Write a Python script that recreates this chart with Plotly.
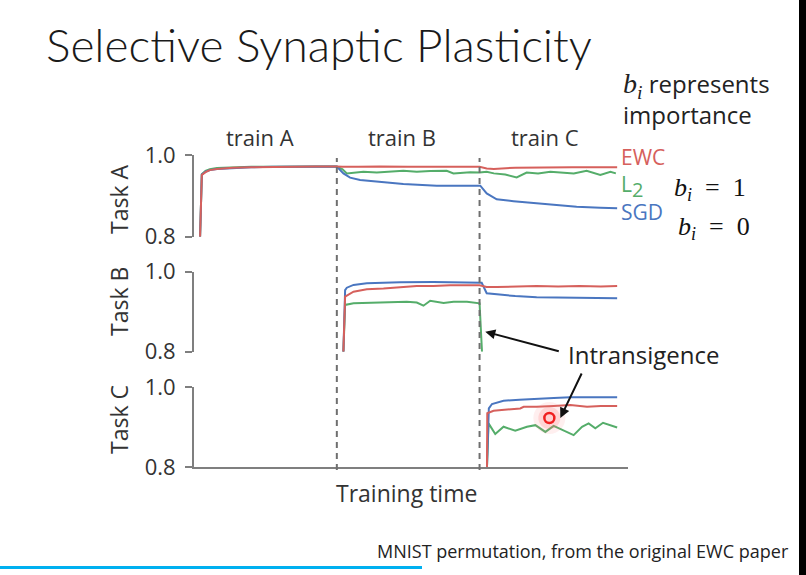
import plotly.graph_objects as go

W, H = 806, 575

# ---------------- data (training time units; each task phase = 100 units) ----------------
task_names = ["Task A", "Task B", "Task C"]
phase_labels = ["train A", "train B", "train C"]
phase_label_x = [46, 146, 246]
phase_bounds = [100, 200]
methods = ["EWC", "L2", "SGD"]
y_ticks = [0.8, 1.0]
y_tick_text = ["0.8", "1.0"]

# Task A
taskA_ewc_x = [4.2, 5.4, 8, 11, 16, 27, 40, 55, 70, 85, 100, 104, 115, 130, 150, 170, 190, 200, 205, 210, 225, 245, 265, 285, 296.4]
taskA_ewc_y = [0.80, 0.951, 0.958, 0.963, 0.966, 0.969, 0.970, 0.971, 0.971, 0.972, 0.972, 0.971, 0.971, 0.972, 0.971, 0.971, 0.972, 0.971, 0.967, 0.966, 0.969, 0.970, 0.970, 0.970, 0.970]
taskA_l2_x = [4.2, 5.4, 8, 11, 16, 27, 40, 55, 70, 85, 100, 104, 107, 118.6, 128, 135, 146.6, 156, 165.4, 177, 181.7, 193.5, 200, 205, 210, 218, 226, 233, 241, 249.6, 258, 266, 275, 284.6, 291.7, 295.5]
taskA_l2_y = [0.80, 0.953, 0.961, 0.965, 0.968, 0.970, 0.971, 0.971, 0.972, 0.972, 0.972, 0.965, 0.955, 0.959, 0.957, 0.959, 0.9615, 0.959, 0.961, 0.9615, 0.955, 0.958, 0.957, 0.959, 0.955, 0.952, 0.945, 0.957, 0.955, 0.959, 0.957, 0.955, 0.9615, 0.951, 0.959, 0.955]
taskA_sgd_x = [4.2, 5.4, 8, 11, 16, 27, 40, 55, 70, 85, 100, 104.6, 109.3, 116.3, 128, 146.6, 170, 199.3, 200.5, 205, 212, 223.8, 238, 252, 268, 284.6, 296.4]
taskA_sgd_y = [0.80, 0.952, 0.959, 0.963, 0.966, 0.968, 0.970, 0.971, 0.971, 0.972, 0.972, 0.955, 0.9445, 0.939, 0.935, 0.929, 0.925, 0.924, 0.925, 0.906, 0.8915, 0.887, 0.883, 0.8775, 0.8735, 0.871, 0.8695]

# Task B
taskB_ewc_x = [104.6, 105.8, 111.7, 121, 132.7, 144.4, 156, 167.6, 179.5, 200, 205, 212, 225, 240, 255, 270, 285, 296.4]
taskB_ewc_y = [0.80, 0.9375, 0.950, 0.956, 0.958, 0.961, 0.964, 0.964, 0.966, 0.966, 0.962, 0.962, 0.963, 0.964, 0.963, 0.964, 0.963, 0.964]
taskB_l2_x = [104.6, 105.8, 111.7, 121, 132.7, 149, 156, 160.7, 165.4, 174.8, 181.8, 191.2, 200, 201.7]
taskB_l2_y = [0.80, 0.917, 0.921, 0.922, 0.9235, 0.925, 0.923, 0.915, 0.9275, 0.922, 0.925, 0.925, 0.921, 0.80]
taskB_sgd_x = [104.6, 105.8, 107, 111.7, 121, 144.4, 167.6, 200, 201.5, 205, 212, 225, 240, 260, 280, 296.4]
taskB_sgd_y = [0.80, 0.954, 0.960, 0.967, 0.971, 0.9735, 0.974, 0.974, 0.9725, 0.946, 0.943, 0.939, 0.936, 0.935, 0.934, 0.9335]

# Task C
taskC_ewc_x = [205.2, 205.4, 209.8, 215, 221.5, 228.5, 230.9, 240, 251.9, 263.6, 275.3, 285, 296.4]
taskC_ewc_y = [0.80, 0.935, 0.941, 0.943, 0.945, 0.947, 0.951, 0.951, 0.953, 0.9555, 0.951, 0.953, 0.953]
taskC_l2_x = [205.2, 206.3, 211.0, 216.8, 225.0, 233.2, 239.1, 246.1, 251.9, 257.8, 265.9, 271.8, 276.4, 281.1, 286.5, 296.4]
taskC_l2_y = [0.80, 0.9095, 0.883, 0.901, 0.891, 0.901, 0.905, 0.888, 0.903, 0.894, 0.880, 0.901, 0.9095, 0.897, 0.911, 0.899]
taskC_sgd_x = [205.2, 206.5, 208.7, 212, 216.8, 228, 240.2, 252, 263.6, 280, 296.4]
taskC_sgd_y = [0.80, 0.947, 0.958, 0.962, 0.966, 0.969, 0.972, 0.973, 0.975, 0.975, 0.975]

# ---------------- styling ----------------
RED, GREEN, BLUE = "#d6605c", "#55ad6a", "#4a76c0"
AXC = "#7f7f7f"
TXT = "#333333"
FONT = "Open Sans"


def px(x):
    return x / W


def py(y):
    return 1 - y / H


fig = go.Figure()

series = [
    ("y", taskA_l2_x, taskA_l2_y, GREEN), ("y", taskA_sgd_x, taskA_sgd_y, BLUE), ("y", taskA_ewc_x, taskA_ewc_y, RED),
    ("y2", taskB_l2_x, taskB_l2_y, GREEN), ("y2", taskB_sgd_x, taskB_sgd_y, BLUE), ("y2", taskB_ewc_x, taskB_ewc_y, RED),
    ("y3", taskC_l2_x, taskC_l2_y, GREEN), ("y3", taskC_sgd_x, taskC_sgd_y, BLUE), ("y3", taskC_ewc_x, taskC_ewc_y, RED),
]
for ya, xs, ys, c in series:
    fig.add_trace(go.Scatter(x=xs, y=ys, xaxis="x", yaxis=ya, mode="lines",
                             line=dict(color=c, width=2), showlegend=False, hoverinfo="skip"))

xdom = [px(194.1), px(628)]
doms = [[py(236.7), py(155)], [py(351.7), py(271.7)], [py(467), py(387.3)]]


def yax(dom):
    return dict(domain=dom, anchor="x", range=[0.8, 1.0], tickvals=y_ticks, ticktext=y_tick_text,
                ticks="outside", ticklen=7, tickwidth=2, tickcolor=AXC, showline=True, linecolor=AXC,
                linewidth=2, showgrid=False, zeroline=False, ticklabelstandoff=5, automargin=False,
                tickfont=dict(family=FONT, size=22, color=TXT), fixedrange=True)


fig.update_layout(
    width=W, height=H, autosize=False,
    margin=dict(l=0, r=0, t=0, b=0, pad=0, autoexpand=False),
    paper_bgcolor="white", plot_bgcolor="white", showlegend=False,
    xaxis=dict(domain=xdom, anchor="y3", range=[0, 304], showline=True, linecolor=AXC, linewidth=2,
               showticklabels=False, ticks="", showgrid=False, zeroline=False, automargin=False),
    yaxis=yax(doms[0]), yaxis2=yax(doms[1]), yaxis3=yax(doms[2]),
)

shapes = []
for b in phase_bounds:
    shapes.append(dict(type="line", xref="x", yref="paper", x0=b, x1=b, y0=py(470), y1=py(158),
                       line=dict(color="#6f6f6f", width=2, dash="6px,5px")))
# right black border and bottom slide accent line
shapes.append(dict(type="rect", xref="paper", yref="paper", x0=px(799), x1=1.0, y0=0, y1=1,
                   fillcolor="black", line=dict(width=0)))
shapes.append(dict(type="line", xref="paper", yref="paper", x0=0, x1=px(422), y0=py(567.5), y1=py(567.5),
                   line=dict(color="#00b0f0", width=3)))
# laser pointer glow
for r, col in [(16, "rgba(255,120,120,0.12)"), (11, "rgba(255,110,110,0.2)")]:
    shapes.append(dict(type="circle", xref="x", yref="y3", xsizemode="pixel", ysizemode="pixel",
                       xanchor=248.9, yanchor=0.923, x0=-r, x1=r, y0=-r, y1=r,
                       fillcolor=col, line=dict(width=0)))
shapes.append(dict(type="circle", xref="x", yref="y3", xsizemode="pixel", ysizemode="pixel",
                   xanchor=248.9, yanchor=0.923, x0=-5, x1=5, y0=-5, y1=5,
                   fillcolor="#ffd0d0", line=dict(color="#f02020", width=2.5)))
fig.update_layout(shapes=shapes)

ann = []


def text(x, y, s, size, color=TXT, family=FONT, xanchor="center", angle=0, weight=None):
    f = dict(family=family, size=size, color=color)
    if weight:
        f["weight"] = weight
    ann.append(dict(x=px(x), y=py(y), xref="paper", yref="paper", text=s, showarrow=False,
                    xanchor=xanchor, yanchor="middle", font=f, textangle=angle, align="left"))


text(44, 45, "Selective Synaptic Plasticity", 46, color="#1a1a1a", family="Lato", xanchor="left", weight=300)
for lab, lx in zip(phase_labels, phase_label_x):
    ann.append(dict(x=lx, y=py(137), xref="x", yref="paper", text=lab, showarrow=False,
                    xanchor="center", yanchor="middle", font=dict(family=FONT, size=22, color=TXT)))
for name, cy in zip(task_names, [200, 302, 420]):
    text(119, cy, name, 23, angle=-90)
text(406, 493, "Training time", 23)
legend_text = (f"<span style='color:{RED}'>EWC</span><br>"
               f"<span style='color:{GREEN}'>L<sub><span style='font-size:20px'>2</span></sub></span><br>"
               f"<span style='color:{BLUE}'>SGD</span>")
text(619, 184, legend_text, 21, color=RED, xanchor="left")
text(672, 189, "<i>b<sub>i</sub></i>  =  1", 26, color="#111111", family="Liberation Serif", xanchor="left")
text(676, 228, "<i>b<sub>i</sub></i>  =  0", 26, color="#111111", family="Liberation Serif", xanchor="left")
text(621, 99, "<span style='font-family:Liberation Serif;font-size:28px'><i>b<sub>i</sub></i></span> represents<br>importance",
     24, color="#222222", xanchor="left")
text(566, 354, "Intransigence", 24, color="#222222", xanchor="left")
text(791, 551, "MNIST permutation, from the original EWC paper", 18, color="#222222", xanchor="right")

# arrows
ann.append(dict(x=204, y=0.85, xref="x", yref="y2", text="", showarrow=True, ax=75, ay=20,
                arrowhead=2, arrowsize=1, arrowwidth=2, arrowcolor="#111111"))
ann.append(dict(x=256.6, y=0.923, xref="x", yref="y3", text="", showarrow=True, ax=22, ay=-46,
                arrowhead=2, arrowsize=1, arrowwidth=2, arrowcolor="#111111"))
fig.update_layout(annotations=ann)

fig.write_html("out.html")
